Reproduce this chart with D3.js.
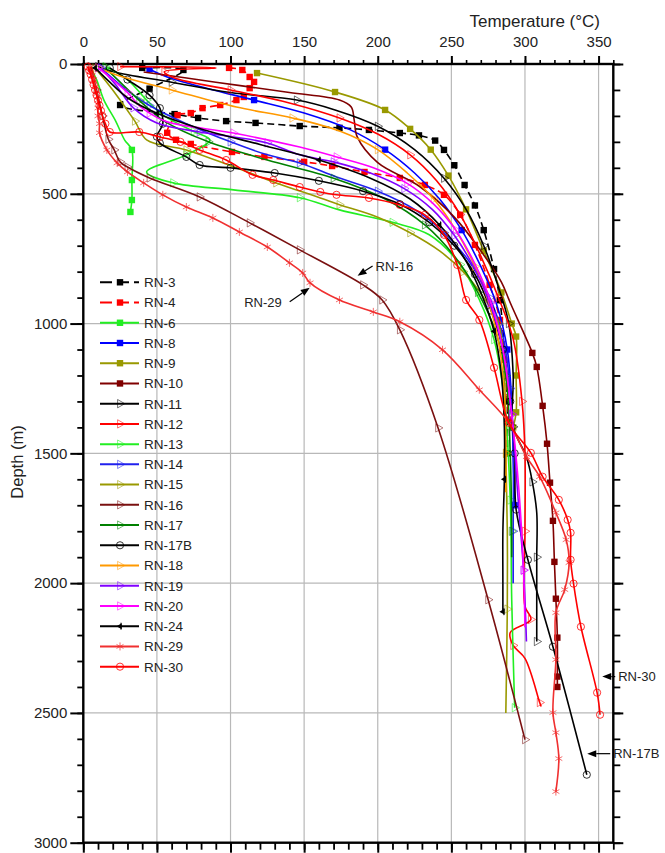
<!DOCTYPE html>
<html>
<head>
<meta charset="utf-8">
<script src="https://cdn.jsdelivr.net/npm/d3@7"></script>
<style>
  body { margin: 0; background: #fff; }
  text { font-family: Arial, "Liberation Sans", sans-serif; fill: #222; }
</style>
</head>
<body>
<script>
(function(){

  var width = 665, height = 853
  var plot = { left: 83.3, right: 613.3, top: 64, bottom: 842.7 }

  // axis ticks
  var xTicks = [0, 50, 100, 150, 200, 250, 300, 350]
  var yTicks = [0, 500, 1000, 1500, 2000, 2500, 3000]

  // well names, legend order
  var names = ['RN-3','RN-4','RN-6','RN-8','RN-9','RN-10','RN-11','RN-12','RN-13','RN-14',
               'RN-15','RN-16','RN-17','RN-17B','RN-18','RN-19','RN-20','RN-24','RN-29','RN-30']

  // [temperature °C, depth m]
  var rn3  = [[40,15],[68,23],[45,95],[25,158],[62,193],[78,208],[97,220],[117,227],[147,239],[174,246],[194,254],
              [215,266],[228,275],[239,295],[245,331],[252,390],[259,466],[266,545],[272,640],[279,790],[283,910],
              [286,1100],[288,1300],[288,1500]]
  var rn4  = [[99,15],[108,23],[113,50],[116,69],[113,93],[109,127],[104,139],[93,158],[81,170],[73,189],[64,197],
              [57,265],[63,292],[73,308],[101,339],[123,358],[150,377],[169,393],[191,416],[215,439],[232,466],
              [245,504],[256,581],[266,697],[276,851],[283,986],[286,1140],[289,1370]]
  var rn6  = [[5,15],[9,60],[14,139],[22,220],[28,292],[33,331],[33,447],[33,524],[32,570]]
  var rn8  = [[45,20],[57,50],[85,95],[116,139],[150,189],[180,250],[205,330],[225,420],[242,520],[257,640],
              [270,780],[281,930],[288,1100],[291,1300],[292,1500],[293,1700]]
  var rn9  = [[118,35],[171,108],[205,177],[222,250],[236,330],[248,430],[260,560],[272,720],[284,880],
              [291,1000],[294,1050],[294,1200],[294,1342],[292,1400]]
  var rn10 = [[41,31],[90,70],[140,110],[174,139],[182,166],[184,216],[186,280],[200,380],[228,470],[252,590],
              [270,720],[284,840],[290,920],[305,1113],[308,1167],[312,1317],[315,1463],[317,1613],[319,1760],
              [320,1918],[321,2060],[322,2210],[322,2360],[322,2400]]
  var rn11 = [[10,10],[21,31],[60,70],[100,110],[145,139],[171,177],[200,240],[225,330],[245,440],[260,560],
              [272,700],[282,860],[289,1000],[292,1200],[292,1398],[301,1513],[305,1610],[308,1729],[308,1900],
              [308,2064],[308,2225]]
  var rn12 = [[25,10],[90,15],[55,30],[62,54],[100,100],[140,150],[174,208],[200,270],[222,350],[240,450],
              [256,580],[270,740],[282,900],[292,1060],[298,1300],[300,1500],[300,1800],[300,2090],[304,2140],
              [290,2190],[292,2240],[300,2290],[310,2460],[311,2475]]
  var rn13 = [[15,10],[30,60],[43,139],[55,200],[75,260],[86,293],[70,350],[43,416],[61,458],[102,485],
              [147,515],[174,562],[210,610],[235,658],[256,773],[269,908],[279,1062],[286,1294],[290,1680],
              [291,2064],[293,2480]]
  var rn14 = [[12,15],[25,80],[45,160],[70,230],[100,300],[125,350],[147,381],[172,435],[200,490],[225,560],
              [245,650],[262,760],[276,900],[285,1050],[290,1250],[292,1500],[292,1800],[292,2000]]
  var rn15 = [[8,15],[20,100],[35,220],[43,292],[70,331],[102,396],[131,458],[161,516],[174,542],[200,590],
              [222,650],[242,720],[258,800],[272,900],[282,1000],[286,1200],[287,1500],[288,1800],[288,2100],
              [287,2500]]
  var rn16 = [[5,10],[9,100],[13,200],[17,290],[21,331],[25,377],[30,397],[45,439],[79,512],[113,612],
              [147,716],[190,851],[203,909],[215,1024],[241,1402],[275,2064],[300,2603]]
  var rn17 = [[15,15],[25,70],[38,140],[55,220],[85,300],[125,370],[170,440],[205,520],[232,620],[252,740],
              [268,880],[280,1030],[287,1200],[290,1500],[291,1800],[291,1900]]
  var rn17b = [[18,15],[30,60],[45,120],[52,170],[54,230],[50,280],[52,305],[70,358],[79,389],[100,400],
               [130,420],[160,450],[190,490],[215,540],[235,610],[252,700],[266,810],[277,950],[285,1100],
               [290,1300],[293,1500],[294,1717],[302,1910],[319,2245],[342,2738]]
  var rn18 = [[10,15],[27,50],[60,100],[104,166],[142,208],[175,260],[200,330],[220,420],[238,520],[253,640],
              [266,780],[276,930],[283,1100],[286,1300],[287,1500],[287,1650]]
  var rn19 = [[12,15],[22,80],[34,169],[50,227],[79,262],[102,281],[125,304],[147,350],[170,377],[195,420],
              [218,480],[237,560],[252,660],[265,780],[276,920],[285,1100],[291,1350],[295,1650],[299,1950],
              [301,2225]]
  var rn20 = [[10,15],[20,60],[30,110],[38,160],[45,189],[57,223],[102,266],[147,320],[172,358],[197,400],
              [220,460],[238,540],[253,640],[266,770],[277,920],[285,1100],[291,1350],[296,1650],[299,1950],
              [300,2170]]
  var rn24 = [[8,15],[18,70],[30,130],[50,190],[80,250],[120,310],[160,370],[195,440],[222,520],[242,620],
              [258,740],[270,880],[279,1030],[284,1200],[286,1400],[286,1600],[285,1800],[285,2000],[285,2110]]
  var rn29 = [[4,15],[5,30],[6,45],[7,60],[8,90],[9,115],[10,139],[10,170],[10,200],[11,230],[11,265],[16,331],
              [23,381],[30,416],[41,458],[54,504],[70,551],[88,593],[106,647],[125,705],[140,766],[149,805],
              [154,843],[174,909],[197,955],[215,993],[244,1101],[269,1255],[289,1382],[301,1513],[310,1590],
              [321,1729],[328,1833],[330,1921],[327,2025],[321,2114],[321,2295],[319,2499],[321,2576],
              [323,2676],[321,2803]]
  var rn30 = [[3,10],[4,25],[5,40],[6,60],[7,80],[8,100],[9,120],[10,140],[11,160],[12,180],[13,200],[15,230],
              [18,262],[38,262],[52,281],[66,300],[79,331],[97,370],[115,427],[129,447],[147,474],[161,493],
              [172,504],[194,516],[215,543],[232,581],[245,658],[254,774],[260,909],[269,986],[279,1170],
              [289,1382],[304,1498],[312,1590],[323,1679],[329,1756],[331,1806],[331,1910],[333,2002],
              [338,2168],[349,2422],[351,2507]]

  var wells = [rn3, rn4, rn6, rn8, rn9, rn10, rn11, rn12, rn13, rn14,
               rn15, rn16, rn17, rn17b, rn18, rn19, rn20, rn24, rn29, rn30]

  // arrow notes: label, tip [T, D], tail [T, D]
  var notes = [
    { label: 'RN-16',  tip: [186.3, 816],  tail: [196.5, 778],  side: 'right' },
    { label: 'RN-29',  tip: [153.8, 862],  tail: [140.2, 916],  side: 'left'  },
    { label: 'RN-30',  tip: [352.5, 2360], tail: [361.3, 2360], side: 'right' },
    { label: 'RN-17B', tip: [342.3, 2657], tail: [357.9, 2657], side: 'right' }
  ]

  var look = {
    'RN-3':   { c: '#000000', dash: '7,4', m: 'square' },
    'RN-4':   { c: '#ff0000', dash: '7,4', m: 'square' },
    'RN-6':   { c: '#22ee22', m: 'square', from: 300 },
    'RN-8':   { c: '#0000ff', m: 'square', every: 3 },
    'RN-9':   { c: '#999900', m: 'square' },
    'RN-10':  { c: '#800000', m: 'square', from: 1100 },
    'RN-11':  { c: '#000000', m: 'tri', every: 2 },
    'RN-12':  { c: '#ff0000', m: 'tri', every: 2 },
    'RN-13':  { c: '#22ee22', m: 'tri', every: 2 },
    'RN-14':  { c: '#2020ee', m: 'tri', every: 2 },
    'RN-15':  { c: '#999900', m: 'tri', every: 2 },
    'RN-16':  { c: '#7a1010', m: 'tri' },
    'RN-17':  { c: '#008000', m: 'tri', every: 2 },
    'RN-17B': { c: '#000000', m: 'circle', every: 1 },
    'RN-18':  { c: '#ff9900', m: 'tri', every: 2 },
    'RN-19':  { c: '#8000ff', m: 'tri', every: 2 },
    'RN-20':  { c: '#ff00ff', m: 'tri', every: 2 },
    'RN-24':  { c: '#000000', m: 'ltri', every: 3 },
    'RN-29':  { c: '#f03030', m: 'star' },
    'RN-30':  { c: '#ff0000', m: 'circle' }
  }

  var x = d3.scaleLinear().domain([0, 360]).range([plot.left, plot.right])
  var y = d3.scaleLinear().domain([0, 3000]).range([plot.top, plot.bottom])

  var svg = d3.select('body').append('svg')
      .attr('width', width)
      .attr('height', height)

  // grid
  svg.append('g').selectAll('line')
      .data(xTicks.filter(function(t){ return t > 0 }))
      .enter().append('line')
      .attr('x1', function(d){ return x(d) }).attr('x2', function(d){ return x(d) })
      .attr('y1', plot.top).attr('y2', plot.bottom)
      .attr('stroke', '#b8b8b8').attr('stroke-width', 1.2)
  svg.append('g').selectAll('line')
      .data(yTicks.filter(function(t){ return t > 0 && t < 3000 }))
      .enter().append('line')
      .attr('y1', function(d){ return y(d) }).attr('y2', function(d){ return y(d) })
      .attr('x1', plot.left).attr('x2', plot.right)
      .attr('stroke', '#b8b8b8').attr('stroke-width', 1.2)

  // axes
  var minorX = d3.range(0, 361, 10)
  var minorY = d3.range(0, 3001, 100)
  var fmt = d3.format('d')

  function styleAxis(g, w) {
    g.select('.domain').remove()
    g.selectAll('.tick line').attr('stroke', '#000').attr('stroke-width', w)
    g.selectAll('.tick text').style('font-size', '15px').attr('fill', '#222')
  }

  svg.append('g').attr('transform', 'translate(0,' + plot.top + ')')
      .call(d3.axisTop(x).tickValues(minorX).tickFormat('').tickSize(4))
      .call(styleAxis, 1.6)
  svg.append('g').attr('transform', 'translate(0,' + plot.top + ')')
      .call(d3.axisTop(x).tickValues(xTicks).tickFormat(fmt).tickSize(8).tickPadding(9))
      .call(styleAxis, 2)

  svg.append('g').attr('transform', 'translate(0,' + plot.bottom + ')')
      .call(d3.axisBottom(x).tickValues(minorX).tickFormat('').tickSize(7))
      .call(styleAxis, 1.8)
  svg.append('g').attr('transform', 'translate(0,' + plot.bottom + ')')
      .call(d3.axisBottom(x).tickValues(xTicks).tickFormat('').tickSize(10))
      .call(styleAxis, 2)

  svg.append('g').attr('transform', 'translate(' + plot.left + ',0)')
      .call(d3.axisLeft(y).tickValues(minorY).tickFormat('').tickSize(6))
      .call(styleAxis, 1.8)
  svg.append('g').attr('transform', 'translate(' + plot.left + ',0)')
      .call(d3.axisLeft(y).tickValues(yTicks).tickFormat(fmt).tickSize(13).tickPadding(3))
      .call(styleAxis, 2)

  svg.append('g').attr('transform', 'translate(' + plot.right + ',0)')
      .call(d3.axisRight(y).tickValues(minorY).tickFormat('').tickSize(7))
      .call(styleAxis, 1.8)
  svg.append('g').attr('transform', 'translate(' + plot.right + ',0)')
      .call(d3.axisRight(y).tickValues(yTicks).tickFormat('').tickSize(10))
      .call(styleAxis, 2)

  svg.append('rect')
      .attr('x', plot.left).attr('y', plot.top)
      .attr('width', plot.right - plot.left).attr('height', plot.bottom - plot.top)
      .attr('fill', 'none').attr('stroke', '#000').attr('stroke-width', 2.4)

  svg.append('text')
      .attr('x', 600).attr('y', 27)
      .attr('text-anchor', 'end')
      .style('font-size', '17px')
      .text('Temperature (°C)')

  svg.append('text')
      .attr('transform', 'translate(23,' + 462 + ') rotate(-90)')
      .attr('text-anchor', 'middle')
      .style('font-size', '16.5px')
      .text('Depth (m)')

  // markers
  var triPath = d3.symbol().type(d3.symbolTriangle).size(30)()
  var smallTri = d3.symbol().type(d3.symbolTriangle).size(16)()
  var starPath = d3.symbol().type(d3.symbolAsterisk || d3.symbolCross).size(45)()

  function drawMark(g, kind, color, px, py) {
    if (kind === 'square') {
      g.append('rect').attr('x', px - 3.2).attr('y', py - 3.2)
        .attr('width', 6.4).attr('height', 6.4).attr('fill', color)
    } else if (kind === 'tri') {
      g.append('path').attr('d', triPath)
        .attr('transform', 'translate(' + px + ',' + py + ') rotate(90)')
        .attr('fill', 'none').attr('stroke', color).attr('stroke-opacity', 0.55).attr('stroke-width', 1)
    } else if (kind === 'ltri') {
      g.append('path').attr('d', smallTri)
        .attr('transform', 'translate(' + px + ',' + py + ') rotate(-90)')
        .attr('fill', color)
      g.append('line').attr('x1', px + 1).attr('x2', px + 1).attr('y1', py - 3.5).attr('y2', py + 3.5)
        .attr('stroke', color).attr('stroke-width', 1)
    } else if (kind === 'circle') {
      g.append('circle').attr('cx', px).attr('cy', py).attr('r', 3.6)
        .attr('fill', 'none').attr('stroke', color).attr('stroke-opacity', 0.8).attr('stroke-width', 1)
    } else if (kind === 'star') {
      g.append('path').attr('d', starPath)
        .attr('transform', 'translate(' + px + ',' + py + ')')
        .attr('fill', 'none').attr('stroke', color).attr('stroke-opacity', 0.7).attr('stroke-width', 1)
    }
  }

  var line = d3.line()
      .x(function(d){ return x(d[0]) })
      .y(function(d){ return y(d[1]) })
      .curve(d3.curveCatmullRom.alpha(0.5))

  var curves = svg.append('g')
  wells.forEach(function(pts, i) {
    var s = look[names[i]]
    var g = curves.append('g').attr('class', 'well')
    g.append('path')
      .attr('d', line(pts))
      .attr('fill', 'none')
      .attr('stroke', s.c)
      .attr('stroke-width', 1.6)
      .attr('stroke-dasharray', s.dash || null)
    var every = s.every || 1, from = s.from || 0
    pts.forEach(function(p, k) {
      if (k % every === 0 && p[1] >= from) drawMark(g, s.m, s.c, x(p[0]), y(p[1]))
    })
  })

  // legend
  var legend = svg.append('g')
  names.forEach(function(name, i) {
    var s = look[name]
    var ly = 282.3 + i * 20.23
    legend.append('line')
      .attr('x1', 100).attr('x2', 139).attr('y1', ly).attr('y2', ly)
      .attr('stroke', s.c).attr('stroke-width', 2)
      .attr('stroke-dasharray', s.dash ? '12,5' : null)
    drawMark(legend, s.m, s.c, 120, ly)
    legend.append('text')
      .attr('x', 144).attr('y', ly)
      .attr('dy', '0.36em')
      .style('font-size', '13.5px')
      .text(name)
  })

  // arrows
  var ann = svg.append('g')
  notes.forEach(function(n) {
    var tx = x(n.tip[0]), ty = y(n.tip[1])
    var sx = x(n.tail[0]), sy = y(n.tail[1])
    var a = Math.atan2(ty - sy, tx - sx)
    var L = 9, W = 3.5
    var bx = tx - L * Math.cos(a), by = ty - L * Math.sin(a)
    ann.append('line').attr('x1', sx).attr('y1', sy).attr('x2', bx).attr('y2', by)
      .attr('stroke', '#000').attr('stroke-width', 1.2)
    ann.append('path')
      .attr('d', 'M' + tx + ',' + ty +
                 'L' + (bx + W * Math.sin(a)) + ',' + (by - W * Math.cos(a)) +
                 'L' + (bx - W * Math.sin(a)) + ',' + (by + W * Math.cos(a)) + 'Z')
      .attr('fill', '#000')
    ann.append('text')
      .attr('x', n.side === 'right' ? sx + 3 : sx - 8)
      .attr('y', n.side === 'right' ? sy : sy + 1)
      .attr('dy', '0.36em')
      .attr('text-anchor', n.side === 'right' ? 'start' : 'end')
      .style('font-size', '13px')
      .text(n.label)
  })

})()
</script>
</body>
</html>
